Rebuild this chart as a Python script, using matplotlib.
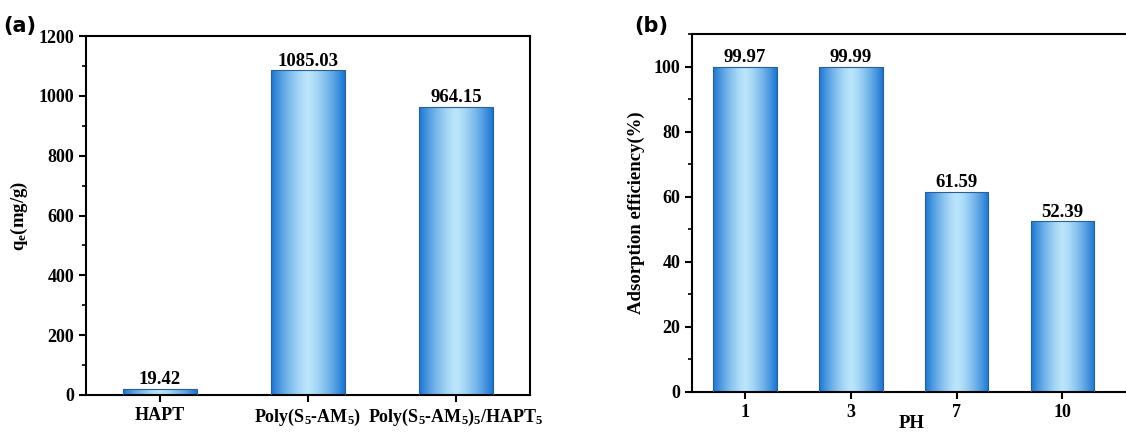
import numpy as np
import matplotlib
matplotlib.use("Agg")
import matplotlib.pyplot as plt
from matplotlib.ticker import MultipleLocator, AutoMinorLocator

plt.rcParams['font.family'] = 'Liberation Serif'
plt.rcParams['font.weight'] = 'bold'
plt.rcParams['mathtext.fontset'] = 'custom'
plt.rcParams['mathtext.rm'] = 'Liberation Serif:bold'
plt.rcParams['mathtext.it'] = 'Liberation Serif:bold'
plt.rcParams['mathtext.default'] = 'rm'

# panel (a) data
adsorbents = ['HAPT', r'Poly(S$_5$-AM$_5$)', r'Poly(S$_5$-AM$_5$)$_5$/HAPT$_5$']
qe = [19.42, 1085.03, 964.15]
# panel (b) data
ph_values = ['1', '3', '7', '10']
efficiency = [99.97, 99.99, 61.59, 52.39]

dark = np.array([26, 118, 212]) / 255
light = np.array([186, 229, 251]) / 255


def gradient_bars(ax, x, heights, width):
    """Bars with a horizontal dark-light-dark blue gradient."""
    xx = np.linspace(0, 1, 200)
    f = 1 - np.abs(2 * xx - 1) ** 1.4
    img = (dark[None, :] * (1 - f[:, None]) + light[None, :] * f[:, None])[None, :, :]
    bars = ax.bar(x, heights, width=width, facecolor='none',
                  edgecolor='#2a5f95', linewidth=0.8, zorder=3)
    for b in bars:
        x0, y0 = b.get_x(), b.get_y()
        im = ax.imshow(img, extent=[x0, x0 + b.get_width(), y0, y0 + b.get_height()],
                       aspect='auto', zorder=2, interpolation='bilinear')
        im.set_clip_path(b)
    return bars


def style(ax):
    for s in ax.spines.values():
        s.set_linewidth(1.5)
    ax.tick_params(axis='both', which='major', direction='out', length=5, width=1.5,
                   labelsize=13)
    ax.tick_params(axis='y', which='minor', direction='out', length=3, width=1.2)
    ax.tick_params(axis='x', which='minor', bottom=False)
    ax.yaxis.set_minor_locator(AutoMinorLocator(2))


fig = plt.figure(figsize=(11.26, 4.33), dpi=100)

# (a)
ax1 = fig.add_axes([0.0764, 0.0878, 0.3943, 0.829])
xa = np.arange(len(qe))
bars = gradient_bars(ax1, xa, qe, 0.5)
for b, v in zip(bars, qe):
    ax1.annotate(f'{v:.2f}', (b.get_x() + b.get_width() / 2, v), xytext=(0, 0.5),
                 textcoords='offset points', ha='center', va='bottom',
                 fontsize=13.5, fontweight='bold')
ax1.set_xlim(-0.5, 2.5)
ax1.set_ylim(0, 1200)
ax1.set_xticks(xa)
ax1.set_xticklabels(adsorbents)
ax1.yaxis.set_major_locator(MultipleLocator(200))
ax1.set_ylabel(r'q$_e$(mg/g)', fontsize=13.5, fontweight='bold', labelpad=6)
style(ax1)
fig.text(0.003, 0.925, '(a)', fontsize=15, fontweight='bold', family='DejaVu Sans')

# (b)
ax2 = fig.add_axes([0.6146, 0.0947, 0.3900, 0.8268])
xb = np.arange(len(efficiency))
bars = gradient_bars(ax2, xb, efficiency, 0.6)
for b, v in zip(bars, efficiency):
    ax2.annotate(f'{v:.2f}', (b.get_x() + b.get_width() / 2, v), xytext=(0, 0.5),
                 textcoords='offset points', ha='center', va='bottom',
                 fontsize=13.5, fontweight='bold')
ax2.set_xlim(-0.5, 3.65)
ax2.set_ylim(0, 110)
ax2.set_xticks(xb)
ax2.set_xticklabels(ph_values)
ax2.yaxis.set_major_locator(MultipleLocator(20))
ax2.set_xlabel('PH', fontsize=13.5, fontweight='bold', labelpad=-4)
ax2.set_ylabel('Adsorption efficiency(%)', fontsize=13.5, fontweight='bold', labelpad=6)
style(ax2)
ax2.spines['right'].set_visible(False)
fig.text(0.563, 0.925, '(b)', fontsize=15, fontweight='bold', family='DejaVu Sans')

fig.savefig('out.png', dpi=100)
